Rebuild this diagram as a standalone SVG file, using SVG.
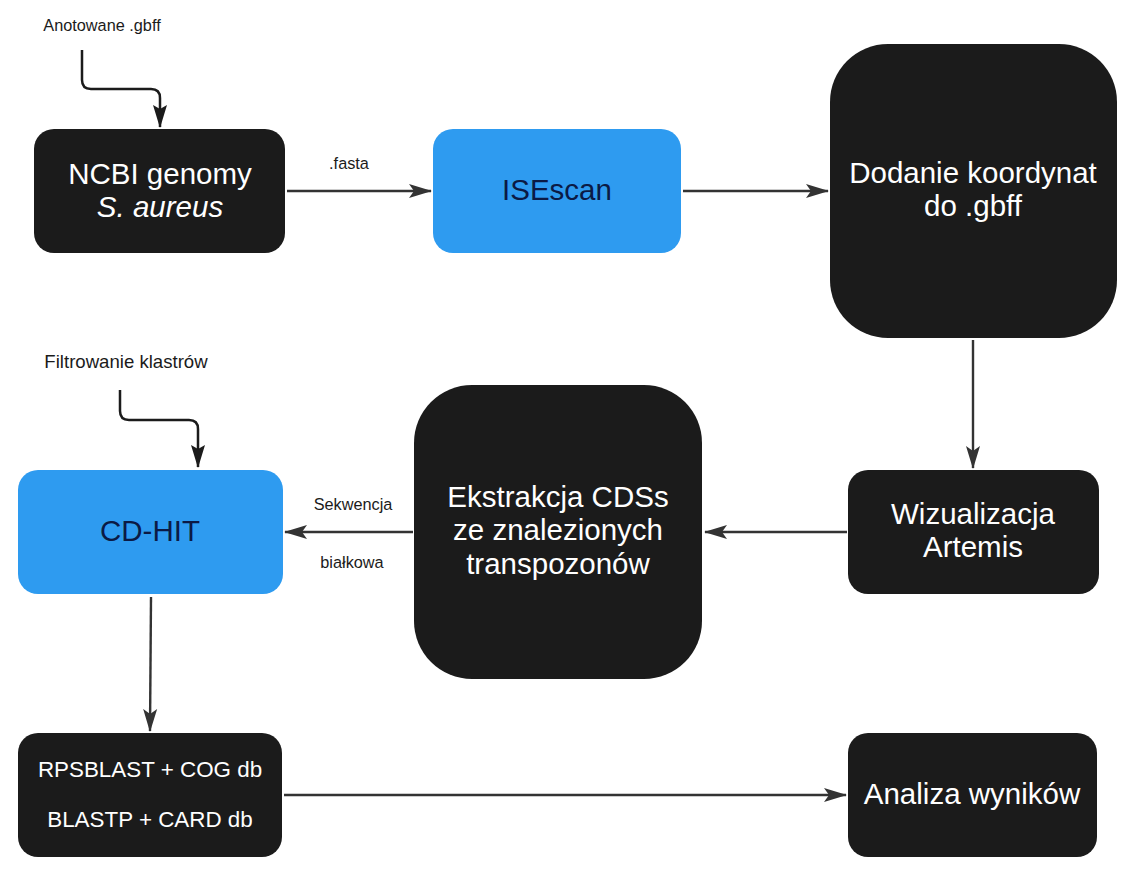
<svg xmlns="http://www.w3.org/2000/svg" width="1134" height="881" viewBox="0 0 1134 881">
<defs>
<style>
.dark{fill:#1b1b1b}
.blue{fill:#2e9bf0}
.wt{fill:#ffffff;font-family:"Liberation Sans",Arial,sans-serif;font-size:29.5px;text-anchor:middle}
.bt{fill:#0b1a45;font-family:"Liberation Sans",Arial,sans-serif;font-size:29.5px;text-anchor:middle}
.lbl{fill:#1b1b1b;font-family:"Liberation Sans",Arial,sans-serif;font-size:16.3px;text-anchor:middle}
.c{fill:none;stroke:#333333;stroke-width:2.4}
.k{fill:none;stroke:#1b1b1b;stroke-width:2.5}
</style>
<marker id="ah" markerWidth="24" markerHeight="16" viewBox="0 0 24 16" refX="22" refY="8" orient="auto" markerUnits="userSpaceOnUse">
<path d="M0,1 L23,8 L0,15 L5,8 Z" fill="#333333"/>
</marker>
<marker id="ahk" markerWidth="24" markerHeight="16" viewBox="0 0 24 16" refX="22" refY="8" orient="auto" markerUnits="userSpaceOnUse">
<path d="M0,1 L23,8 L0,15 L4,8 Z" fill="#1b1b1b"/>
</marker>
</defs>
<rect width="1134" height="881" fill="#ffffff"/>

<g id="connectors">
<path class="k" d="M82,50 V80 Q82,89 91,89 H151 Q160,89 160,98 V127" marker-end="url(#ahk)"/>
<path class="k" d="M120,390 V411 Q120,420 129,420 H189 Q198,420 198,429 V467" marker-end="url(#ahk)"/>
<path class="c" d="M287,191 H431" marker-end="url(#ah)"/>
<path class="c" d="M683,191 H828" marker-end="url(#ah)"/>
<path class="c" d="M973,340 V468" marker-end="url(#ah)"/>
<path class="c" d="M847,532 H705" marker-end="url(#ah)"/>
<path class="c" d="M413,532 H285" marker-end="url(#ah)"/>
<path class="c" d="M151,597 L150,731" marker-end="url(#ah)"/>
<path class="c" d="M284,795 H846" marker-end="url(#ah)"/>
<text class="lbl" x="349" y="169">.fasta</text>
<text class="lbl" x="353" y="510">Sekwencja</text>
<text class="lbl" x="352" y="568">białkowa</text>
</g>

<g id="label-anotowane"><text class="lbl" x="102" y="31">Anotowane .gbff</text></g>
<g id="label-filtrowanie"><text class="lbl" x="126" y="368" style="font-size:18.6px">Filtrowanie klastrów</text></g>

<g id="ncbi">
<rect class="dark" x="34" y="129" width="251" height="124" rx="20"/>
<text class="wt" x="160" y="184">NCBI genomy</text>
<text class="wt" x="160" y="217" font-style="italic">S. aureus</text>
</g>
<g id="isescan">
<rect class="blue" x="433" y="129" width="248" height="124" rx="20"/>
<text class="bt" x="557" y="200">ISEscan</text>
</g>
<g id="dodanie">
<rect class="dark" x="830" y="44" width="287" height="294" rx="58"/>
<text class="wt" x="973" y="183">Dodanie koordynat</text>
<text class="wt" x="973" y="216">do .gbff</text>
</g>
<g id="wizualizacja">
<rect class="dark" x="848" y="470" width="251" height="124" rx="20"/>
<text class="wt" x="973" y="524">Wizualizacja</text>
<text class="wt" x="973" y="557">Artemis</text>
</g>
<g id="ekstrakcja">
<rect class="dark" x="414" y="385" width="288" height="294" rx="58"/>
<text class="wt" x="558" y="507">Ekstrakcja CDSs</text>
<text class="wt" x="558" y="540">ze znalezionych</text>
<text class="wt" x="558" y="574">transpozonów</text>
</g>
<g id="cdhit">
<rect class="blue" x="18" y="470" width="265" height="124" rx="20"/>
<text class="bt" x="150" y="541">CD-HIT</text>
</g>
<g id="rpsblast">
<rect class="dark" x="18" y="733" width="264" height="124" rx="20"/>
<text class="wt" x="150" y="777" style="font-size:22.4px">RPSBLAST + COG db</text>
<text class="wt" x="150" y="827" style="font-size:22.4px">BLASTP + CARD db</text>
</g>
<g id="analiza">
<rect class="dark" x="848" y="733" width="249" height="124" rx="20"/>
<text class="wt" x="972" y="804">Analiza wyników</text>
</g>
</svg>
